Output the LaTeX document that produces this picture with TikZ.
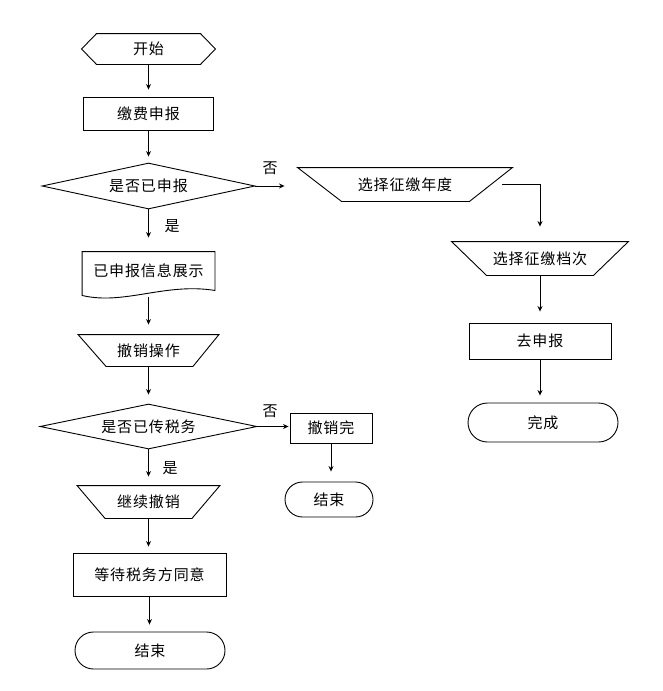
\documentclass[tikz,border=0pt]{standalone}
\usepackage{fontspec}
\setmainfont{Noto Sans CJK SC}[LetterSpace=6]
\usetikzlibrary{arrows.meta,shapes.geometric,shapes.misc}
\begin{document}
\begin{tikzpicture}[x=1pt,y=-1pt,line width=0.9pt,
  txt/.style={inner sep=0pt,font=\fontsize{15}{17}\selectfont},
  plain/.style={txt,rectangle},
  proc/.style={txt,rectangle,draw},
  term/.style={txt,rounded rectangle,draw},
  dia/.style={txt,diamond,draw,aspect=4.6},
  flow/.style={-{Stealth[length=5.5pt,width=5pt]}}]
\useasboundingbox (0,0) rectangle (662,691);

% left column
\node[plain,minimum width=133pt,minimum height=30pt] (start) at (148.5,49) {开始};
\draw ([xshift=15pt]start.north west) -- ([xshift=-15pt]start.north east) -- (start.east)
  -- ([xshift=-15pt]start.south east) -- ([xshift=15pt]start.south west) -- (start.west) -- cycle;

\node[proc,minimum width=130pt,minimum height=33pt] (pay) at (148.5,113.5) {缴费申报};
\node[dia,minimum width=213pt,minimum height=46pt] (d1) at (148.5,186) {是否已申报};

\node[plain,minimum width=132pt,minimum height=38pt] (show) at (148.5,271) {已申报信息展示};
\draw (show.north west) -- (show.north east) -- (show.south east)
  .. controls +(-50,-8) and +(42,10) .. ([yshift=-5pt]show.south west) -- cycle;

\node[plain,minimum width=140pt,minimum height=31pt] (undo) at (148.5,350.5) {撤销操作};
\draw (undo.north west) -- (undo.north east) -- ([xshift=-26pt]undo.south east)
  -- ([xshift=28pt]undo.south west) -- cycle;

\node[dia,minimum width=217pt,minimum height=45pt] (d2) at (148.5,426.5) {是否已传税务};

\node[plain,minimum width=142pt,minimum height=32pt] (cont) at (148.5,502) {继续撤销};
\draw (cont.north west) -- (cont.north east) -- ([xshift=-28pt]cont.south east)
  -- ([xshift=28pt]cont.south west) -- cycle;

\node[proc,minimum width=153pt,minimum height=43pt] (wait) at (149.5,574.5) {等待税务方同意};
\node[term,minimum width=150pt,minimum height=37pt] (e1) at (150,650.5) {结束};

% middle column
\node[proc,minimum width=82pt,minimum height=30pt] (uc) at (331,428) {撤销完};
\node[term,minimum width=88pt,minimum height=35pt] (e2) at (329,499.5) {结束};

% right column
\node[plain,minimum width=214pt,minimum height=33pt] (yr) at (405,184.5) {选择征缴年度};
\draw (yr.north west) -- (yr.north east) -- ([xshift=-43pt]yr.south east)
  -- ([xshift=44pt]yr.south west) -- cycle;

\node[plain,minimum width=176pt,minimum height=33pt] (lv) at (540,258.5) {选择征缴档次};
\draw (lv.north west) -- (lv.north east) -- ([xshift=-35pt]lv.south east)
  -- ([xshift=35pt]lv.south west) -- cycle;

\node[proc,minimum width=142pt,minimum height=36pt] (go) at (540,341) {去申报};
\node[term,minimum width=150pt,minimum height=39pt] (done) at (543,422.5) {完成};

% labels
\node[txt] (n1) at (270,168) {否};
\node[txt] (y1) at (172,226) {是};
\node[txt] (n2) at (270,411) {否};
\node[txt] (y2) at (170,468) {是};

% connectors
\draw[flow,shorten >=7pt] (start.south) -- (start.south |- pay.north);
\draw[flow,shorten >=6pt] (pay.south) -- (pay.south |- d1.north);
\draw[flow,shorten >=14pt] (d1.south) -- (d1.south |- show.north);
\draw[flow,shorten <=7pt,shorten >=10pt] (show.south) -- (show.south |- undo.north);
\draw[flow,shorten >=9pt] (undo.south) -- (undo.south |- d2.north);
\draw[flow,shorten >=9pt] (d2.south) -- (d2.south |- cont.north);
\draw[flow,shorten >=6pt] (cont.south) -- (cont.south |- wait.north);
\draw[flow,shorten >=7pt] (wait.south) -- (wait.south |- e1.north);

\draw[flow,shorten >=13pt] (d1.east) -- (d1.east -| yr.west);
\draw[flow,shorten >=15pt] ([xshift=-10pt]yr.east) -| (lv.north);
\draw[flow,shorten >=11pt] (lv.south) -- (go.north);
\draw[flow,shorten >=7pt] (go.south) -- (go.south |- done.north);

\draw[flow,shorten >=1pt] (d2.east) -- (d2.east -| uc.west);
\draw[flow,shorten >=10pt] (uc.south) -- (uc.south |- e2.north);
\end{tikzpicture}
\end{document}
